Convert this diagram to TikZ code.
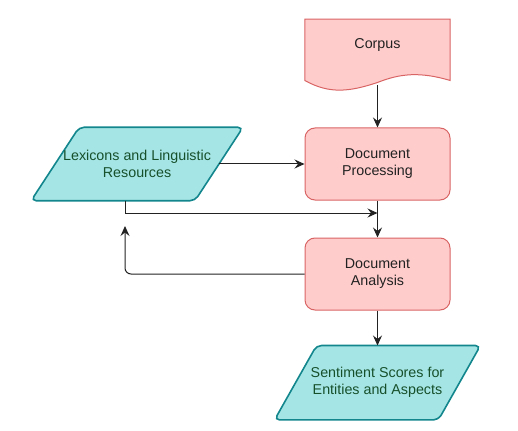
\documentclass[tikz,border=0pt]{standalone}
\usepackage{fontspec}
\setmainfont{Liberation Sans}
\usetikzlibrary{arrows.meta,positioning,backgrounds}
\definecolor{fcpink}{HTML}{FFCCCC}
\definecolor{fcpinkline}{HTML}{D96464}
\definecolor{fccyan}{HTML}{A6E5E5}
\definecolor{fccyanline}{HTML}{12868C}
\definecolor{fcgreen}{HTML}{16502B}
\definecolor{fcink}{HTML}{222222}
\newcommand{\fcfont}{\fontsize{14.3}{17}\selectfont}
\tikzset{
  pinkBox/.style={draw=fcpinkline, line width=1pt, fill=fcpink, rounded corners=10pt, align=center, minimum width=145pt, minimum height=72pt, inner sep=0pt, text=fcink, font=\fcfont},
  docBox/.style={align=center, minimum width=145pt, minimum height=62pt, inner sep=0pt, text depth=14pt, text=fcink, font=\fcfont},
  docShape/.style={draw=fcpinkline, line width=1pt, fill=fcpink},
  cyanBox/.style={align=center, minimum width=163.5pt, inner sep=0pt, text=fcgreen, font=\fcfont},
  cyanShape/.style={draw=fccyanline, line width=1.6pt, fill=fccyan, rounded corners=5pt},
  flowArrow/.style={-{Stealth[length=10pt,width=9pt,inset=3.5pt]}, line width=1pt, draw=fcink}
}

\begin{document}
\begin{tikzpicture}[x=1pt, y=-1pt]
  \useasboundingbox (0,0) rectangle (518,430);
  \node[pinkBox] (proc) at (377.5,164) {Document\\ Processing};
  \node[docBox, above=46pt of proc] (corpus) {Corpus};
  \node[pinkBox, below=37pt of proc] (analysis) {Document\\ Analysis};
  \node[cyanBox, minimum height=73pt, left=85.5pt of proc] (lexicon) {Lexicons and Linguistic\\ Resources};
  \node[cyanBox, minimum height=74pt, below=35pt of analysis] (scores) {Sentiment Scores for\\ Entities and Aspects};

  % outlines drawn behind the texts
  \begin{scope}[on background layer]
    \draw[docShape] (corpus.north west) -- (corpus.north east) -- ([yshift=1pt]corpus.south east)
      .. controls ([shift={(42.5,-10)}]corpus.south) and ([shift={(22.5,-8)}]corpus.south) .. ([shift={(0,1)}]corpus.south)
      .. controls ([shift={(-27.5,10)}]corpus.south) and ([shift={(-47.5,13)}]corpus.south) .. ([yshift=1pt]corpus.south west) -- cycle;
    \foreach \n/\s in {lexicon/24, scores/21}
      \draw[cyanShape] ([xshift=\s]\n.north west) -- ([xshift=\s]\n.north east)
        -- ([xshift=-\s]\n.south east) -- ([xshift=-\s]\n.south west) -- cycle;
  \end{scope}

  \coordinate (split) at (125,213);
  \coordinate (back) at (125,226);

  \draw[flowArrow] ([yshift=-4pt]corpus.south) -- (proc);
  \draw[flowArrow] (proc) -- (analysis);
  \draw[flowArrow] (analysis) -- (scores);
  \draw[flowArrow] (lexicon.east) -- (lexicon.east -| proc.west);
  \draw[flowArrow] (split |- lexicon.south) -- (split) -- (split -| proc.south);
  \draw[flowArrow, rounded corners=6pt] (analysis.west) -| (back);
\end{tikzpicture}
\end{document}
